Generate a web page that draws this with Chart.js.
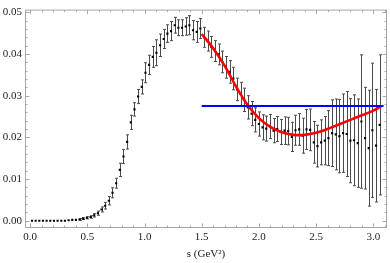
<!DOCTYPE html>
<html><head><meta charset="utf-8">
<script src="https://cdn.jsdelivr.net/npm/chart.js@4/dist/chart.umd.min.js"></script>
<style>html,body{margin:0;padding:0;background:#fff;}</style>
</head><body>
<canvas id="c" width="390" height="263" style="width:390px;height:263px;display:block"></canvas>
<script>
// s values (GeV^2), bin centres
const sValues = [0.016,0.048,0.080,0.112,0.144,0.176,0.208,0.240,0.272,0.304,0.336,0.368,0.400,0.432,0.464,0.496,0.528,0.560,0.592,0.624,0.656,0.688,0.720,0.752,0.784,0.816,0.848,0.880,0.912,0.944,0.976,1.008,1.040,1.072,1.104,1.136,1.168,1.200,1.232,1.264,1.296,1.328,1.360,1.392,1.424,1.456,1.488,1.520,1.552,1.584,1.616,1.648,1.680,1.712,1.744,1.776,1.808,1.840,1.872,1.904,1.936,1.968,2.000,2.032,2.064,2.096,2.128,2.160,2.192,2.224,2.256,2.288,2.320,2.352,2.384,2.416,2.448,2.480,2.512,2.544,2.576,2.608,2.640,2.672,2.704,2.736,2.768,2.800,2.832,2.864,2.896,2.928,2.960,2.992,3.024,3.056];
const specValues = [0.0000,0.0000,0.0000,0.0000,0.0000,0.0000,0.0000,0.0000,0.0000,0.0000,0.0001,0.0002,0.0002,0.0003,0.0005,0.0007,0.0009,0.0013,0.0018,0.0027,0.0036,0.0048,0.0067,0.0090,0.0122,0.0154,0.0189,0.0236,0.0267,0.0298,0.0321,0.0355,0.0374,0.0393,0.0403,0.0421,0.0436,0.0449,0.0455,0.0469,0.0463,0.0463,0.0466,0.0469,0.0457,0.0453,0.0461,0.0440,0.0431,0.0417,0.0407,0.0399,0.0381,0.0368,0.0357,0.0341,0.0315,0.0304,0.0290,0.0272,0.0257,0.0242,0.0232,0.0224,0.0221,0.0226,0.0216,0.0220,0.0213,0.0216,0.0215,0.0201,0.0217,0.0219,0.0204,0.0219,0.0218,0.0188,0.0179,0.0188,0.0192,0.0198,0.0210,0.0207,0.0203,0.0210,0.0208,0.0192,0.0193,0.0186,0.0238,0.0198,0.0174,0.0217,0.0180,0.0230];
const specErrors = [0.00003,0.00003,0.00003,0.00003,0.00003,0.00003,0.00003,0.00003,0.00003,0.00005,0.0001,0.0001,0.00015,0.0002,0.0002,0.00025,0.0003,0.0004,0.0005,0.0006,0.0008,0.0010,0.0012,0.0012,0.0016,0.0017,0.0017,0.0017,0.0016,0.0017,0.0017,0.0024,0.0023,0.0025,0.0031,0.0027,0.0023,0.0021,0.0023,0.0019,0.0019,0.0019,0.0021,0.0023,0.0023,0.0025,0.0024,0.0024,0.0024,0.0025,0.0025,0.0025,0.0026,0.0026,0.0027,0.0027,0.0027,0.0028,0.0028,0.0028,0.0029,0.0029,0.0029,0.0030,0.0030,0.0029,0.0029,0.0030,0.0030,0.0033,0.0033,0.0035,0.0036,0.0038,0.0042,0.0048,0.0050,0.0050,0.0050,0.0054,0.0058,0.0066,0.0080,0.0085,0.0088,0.0094,0.0102,0.0101,0.0109,0.0106,0.0160,0.0122,0.0139,0.0161,0.0135,0.0168];
// red fitted curve
const fitS = [1.50,1.60,1.70,1.80,1.90,2.00,2.10,2.20,2.30,2.40,2.50,2.60,2.70,2.80,2.90,3.00,3.07];
const fitY = [0.0448,0.0414,0.0372,0.0322,0.0278,0.0246,0.0225,0.0212,0.0206,0.0206,0.0211,0.0220,0.0231,0.0242,0.0253,0.0264,0.0275];
// blue constant line
const constS = [1.50,3.09];
const constY = [0.0275,0.0275];
// ticks
const xTickValues = [0,0.5,1,1.5,2,2.5,3];
const xTickLabels = ['0.0','0.5','1.0','1.5','2.0','2.5','3.0'];
const yTickValues = [0,0.01,0.02,0.03,0.04,0.05];
const yTickLabels = ['0.00','0.01','0.02','0.03','0.04','0.05'];
const xMinorStep = 0.1, yMinorStep = 0.002;

const points = sValues.map((s,i)=>({x:s,y:specValues[i]}));
const fitPts = fitS.map((s,i)=>({x:s,y:fitY[i]}));
const constPts = constS.map((s,i)=>({x:s,y:constY[i]}));

const errorBars = {
  id:'errorBars',
  beforeDatasetsDraw(chart){
    const {ctx, chartArea:a, scales:{x,y}} = chart;
    ctx.save();
    ctx.beginPath(); ctx.rect(a.left,a.top,a.right-a.left,a.bottom-a.top); ctx.clip();
    ctx.strokeStyle='#4a4a4a'; ctx.lineWidth=1;
    sValues.forEach((s,i)=>{
      const px = Math.round(x.getPixelForValue(s))+0.5;
      const y1 = y.getPixelForValue(specValues[i]+specErrors[i]);
      const y2 = y.getPixelForValue(specValues[i]-specErrors[i]);
      if (y2-y1 < 1.5) return;
      ctx.beginPath();
      ctx.moveTo(px,y1); ctx.lineTo(px,y2);
      ctx.moveTo(px-1.5,y1); ctx.lineTo(px+1.5,y1);
      ctx.moveTo(px-1.5,y2); ctx.lineTo(px+1.5,y2);
      ctx.stroke();
    });
    ctx.restore();
  }
};

const frame = {
  id:'frame',
  afterDraw(chart){
    const {ctx, chartArea:a, scales:{x,y}} = chart;
    ctx.save();
    ctx.strokeStyle='#a8a8a8'; ctx.lineWidth=1;
    const L=a.left+0.5, R=a.right-0.5, T=a.top+0.5, B=a.bottom-0.5;
    ctx.strokeRect(L,T,R-L,B-T);
    ctx.beginPath();
    for (let k=Math.ceil(x.min/xMinorStep); k*xMinorStep<=x.max; k++){
      const v=k*xMinorStep; const px=Math.round(x.getPixelForValue(v))+0.5;
      const major = xTickValues.some(t=>Math.abs(t-v)<1e-9);
      const len = major?4:2;
      ctx.moveTo(px,B); ctx.lineTo(px,B-len);
      ctx.moveTo(px,T); ctx.lineTo(px,T+len);
    }
    for (let k=Math.ceil(y.min/yMinorStep); k*yMinorStep<=y.max; k++){
      const v=k*yMinorStep; const py=Math.round(y.getPixelForValue(v))+0.5;
      const major = yTickValues.some(t=>Math.abs(t-v)<1e-9);
      const len = major?4:2;
      ctx.moveTo(L,py); ctx.lineTo(L+len,py);
      ctx.moveTo(R,py); ctx.lineTo(R-len,py);
    }
    ctx.stroke();
    ctx.restore();
  }
};

Chart.defaults.font.family = '"Liberation Serif","DejaVu Serif",serif';
Chart.defaults.color = '#222';

new Chart(document.getElementById('c'), {
  type:'scatter',
  data:{datasets:[
    {label:'data', data:points, showLine:false, pointRadius:1.5, pointHoverRadius:1.5, pointStyle:'rect', backgroundColor:'#000', borderColor:'#000', borderWidth:0, order:3},
    {label:'fit', type:'line', data:fitPts, showLine:true, pointRadius:0, borderColor:'#ff0000', borderWidth:2.6, tension:0.4, fill:false, order:2},
    {label:'const', type:'line', data:constPts, showLine:true, pointRadius:0, borderColor:'#0000ff', borderWidth:2, fill:false, order:1}
  ]},
  options:{
    responsive:false, animation:false, devicePixelRatio:1,
    layout:{padding:{top:3,right:3,left:0,bottom:0}},
    plugins:{legend:{display:false}, tooltip:{enabled:false}},
    scales:{
      x:{type:'linear', min:-0.045, max:3.12,
        afterBuildTicks:s=>{s.ticks=xTickValues.map(v=>({value:v}));},
        ticks:{callback:(v,i)=>xTickLabels[i], padding:3, maxRotation:0, autoSkip:false, font:{size:11}},
        grid:{display:false, drawTicks:false}, border:{display:false},
        title:{display:true, text:'s (GeV²)', font:{size:11}, padding:{top:0,bottom:2}},
        afterFit:s=>{s.height=35;}
      },
      y:{type:'linear', min:-0.00175, max:0.05065,
        afterBuildTicks:s=>{s.ticks=yTickValues.map(v=>({value:v}));},
        ticks:{callback:(v,i)=>yTickLabels[i], padding:3, autoSkip:false, font:{size:11}},
        grid:{display:false, drawTicks:false}, border:{display:false},
        afterFit:s=>{s.width=25;}
      }
    }
  },
  plugins:[errorBars, frame]
});
</script>
</body></html>
